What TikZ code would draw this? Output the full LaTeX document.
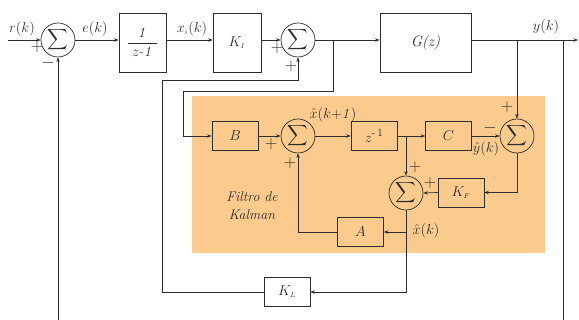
\documentclass[tikz,border=0pt]{standalone}
\usepackage{amsmath}
\usetikzlibrary{arrows.meta,calc}
\definecolor{kalbg}{RGB}{251,203,142}
\definecolor{ln}{RGB}{45,45,45}
\newcommand{\SUMG}{{\fontsize{15}{18}\selectfont$\displaystyle\sum$}}
\begin{document}
\begin{tikzpicture}[x=1pt,y=-1pt,
  every node/.style={font=\fontsize{15}{18}\selectfont, text=ln},
  blk/.style={draw=ln, line width=0.7pt, minimum width=46pt, minimum height=29pt, inner sep=0pt},
  sumnode/.style={draw=ln, circle, minimum size=34pt, inner sep=0pt, line width=0.7pt},
  conn/.style={line width=0.7pt, draw=ln},
  arr/.style={conn, -{Stealth[length=4.5pt,width=3.5pt]}},
  sgn/.style={inner sep=0pt, font=\fontsize{16}{16}\selectfont},
  lbl/.style={inner sep=0pt}]
\useasboundingbox (0,0) rectangle (579,320);
% Kalman background
\fill[kalbg] (192,96) rectangle (545,253);

% main loop nodes
\node[sumnode] (s1) at (58,40) {\SUMG};
\node[blk, minimum width=47pt, minimum height=59pt] (tf) at (142.5,42.5) {$\dfrac{\mathit{1}}{\;z\mathit{\text{-}1}\;}$};
\node[blk, minimum width=48pt, minimum height=59pt] (ki) at (237,42.5) {$K_{\scriptscriptstyle I}$};
\node[sumnode] (s2) at (298,40) {\SUMG};
\node[blk, minimum width=91pt, minimum height=59pt] (g) at (425.5,42.5) {\textit{G(z)}};

% Kalman nodes
\node[blk] (b) at (235,136) {$B$};
\node[sumnode] (s3) at (298,136) {\SUMG};
\node[blk] (zi) at (374,136) {$z^{\text{-}\,1}$};
\node[blk] (c) at (448.5,136) {$C$};
\node[sumnode] (skf) at (517,136) {\SUMG};
\node[blk] (kf) at (461,192.5) {$K_{\scriptscriptstyle F}$};
\node[sumnode] (s4) at (406,193) {\SUMG};
\node[blk] (a) at (360.5,232) {$A$};
\node[blk] (kl) at (287,292) {$K_{\scriptscriptstyle L}$};
\node[lbl, align=center, font=\fontsize{14}{18}\selectfont\itshape] (fk) at (252,206) {Filtro de\\Kalman};

% coordinates
\coordinate (in) at (8,40);
\coordinate (out) at (578,40);
\coordinate (ybr) at (517,40);
\coordinate (yfb) at (563,40);
\coordinate (yfbe) at (563,320);
\coordinate (fbin) at (58,320);
\coordinate (ubr) at (333,40);
\coordinate (uc) at (183,91);
\coordinate (klc) at (162,80);
\coordinate (br1) at (406,136);
\coordinate (br2) at (406,232);

% main connectors
\draw[arr] (in) -- (s1.west);
\draw[arr] (s1.east) -- (s1.east -| tf.west);
\draw[arr] (tf.east |- s1.center) -- (ki.west |- s1.center);
\draw[arr] (ki.east |- s1.center) -- (s2.west);
\draw[arr] (s2.east) -- (g.west |- s2.center);
\draw[arr] (g.east |- s2.center) -- (out);
\draw[conn] (yfb) -- (yfbe);
\draw[arr] (fbin) -- (s1.south);
\draw[arr] (ybr) -- (skf.north);
\draw[arr] (ubr) |- (uc) |- (b.west);
\draw[arr] (kl.west) -| (klc) -| (s2.south);

% Kalman connectors
\draw[arr] (b.east) -- (s3.west);
\draw[arr] (s3.east) -- (zi.west);
\draw[arr] (zi.east) -- (c.west);
\draw[arr] (br1) -- (s4.north);
\draw[arr] (c.east) -- (skf.west);
\draw[arr] (skf.south) |- (kf.east);
\draw[arr] (kf.west) -- (s4.east);
\draw[arr] (s4.south) |- (kl.east);
\draw[arr] (br2) -- (a.east);
\draw[arr] (a.west) -| (s3.south);

% labels
\node[lbl] (lr) at (22,29) {$r(k)$};
\node[lbl] (le) at (95,29) {$e(k)$};
\node[lbl] (lx) at (192,29) {$x_{\scriptscriptstyle i}(k)$};
\node[lbl] (ly) at (546,27) {$y(k)$};
\node[lbl] (lxk1) at (333,115) {$\hat{x}(k\mathit{+1})$};
\node[lbl] (lyh) at (486,149) {$\hat{y}(k)$};
\node[lbl] (lxh) at (426,231) {$\hat{x}(k)$};

% signs
\node[sgn] (p1) at (37,47) {$+$};
\node[sgn] (m1) at (48,63) {$-$};
\node[sgn] (p2) at (277,48) {$+$};
\node[sgn] (p3) at (291,66) {$+$};
\node[sgn] (p4) at (271,144) {$+$};
\node[sgn] (p5) at (290,163) {$+$};
\node[sgn] (p6) at (507,107) {$+$};
\node[sgn] (m2) at (490,128) {$-$};
\node[sgn] (p7) at (415,167) {$+$};
\node[sgn] (p8) at (430,183) {$+$};
\end{tikzpicture}
\end{document}
